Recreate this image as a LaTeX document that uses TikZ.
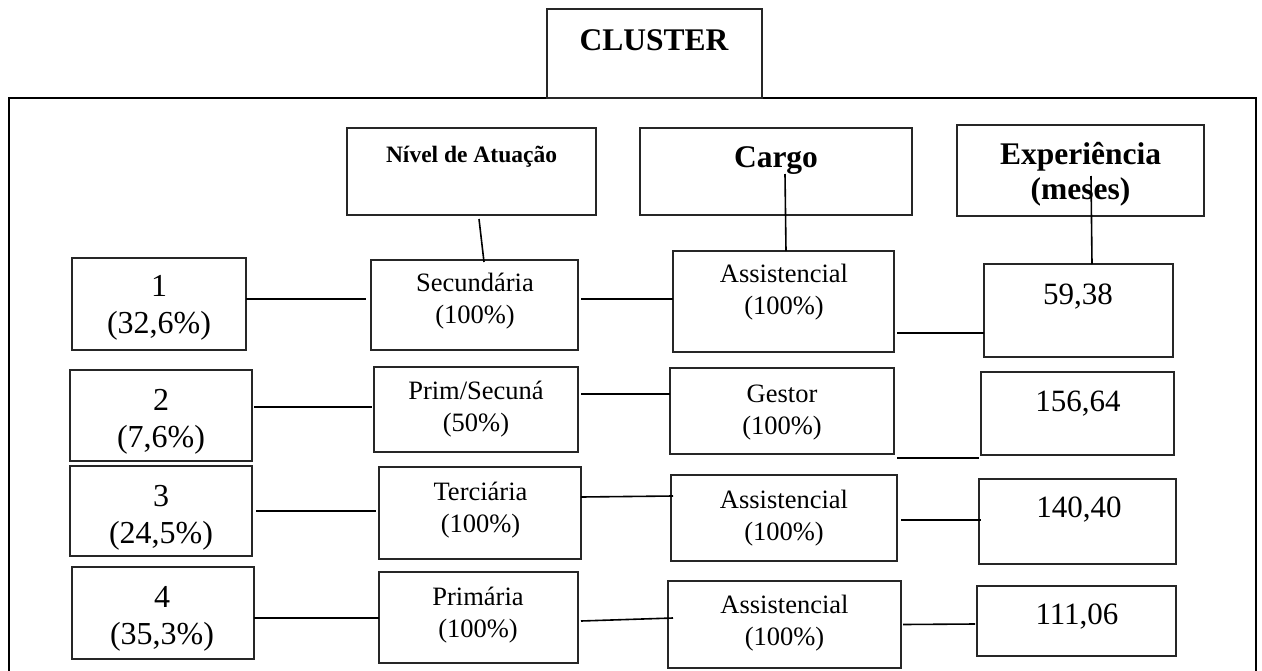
\documentclass[tikz,border=0pt]{standalone}
\usepackage{fontspec}
\setmainfont{Liberation Serif}
\tikzset{
  bx/.style={draw=black!85, line width=1.4pt, inner sep=0pt, outer sep=0pt, rectangle},
  cn/.style={line width=1.6pt, draw=black},
  frm/.style={line width=2.8pt, draw=black},
  lft/.style={inner sep=0pt, align=center, font=\fontsize{32}{37}\selectfont},
  mid/.style={inner sep=0pt, align=center, font=\fontsize{26.5}{32}\selectfont},
  num/.style={inner sep=0pt, font=\fontsize{31}{36}\selectfont},
  hdr/.style={inner sep=0pt, align=center, font=\fontsize{31.5}{35}\selectfont\bfseries},
  hdrs/.style={inner sep=0pt, font=\fontsize{23.5}{28}\selectfont\bfseries},
}
\newcommand\bxnode[5]{\node[bx,minimum width={(#4-#2)*1pt},minimum height={(#5-#3)*1pt}] (#1) at ({(#2+#4)/2},{(#3+#5)/2}) {};}
\begin{document}
\begin{tikzpicture}[x=1pt,y=-1pt]
\useasboundingbox (0,0) rectangle (1262,670);
% outer frame
\draw[frm] (9,672) -- (9,98) -- (1256,98) -- (1256,672);
% boxes
\bxnode{cl}{547}{9}{762}{98}
\bxnode{niv}{347}{128}{596}{215}
\bxnode{car}{640}{128}{912}{215}
\bxnode{exp}{957}{125}{1204}{216}
\bxnode{b1}{72}{258}{246}{350}
\bxnode{b2}{70}{370}{252}{461}
\bxnode{b3}{70}{466}{252}{556}
\bxnode{b4}{72}{567}{254}{659}
\bxnode{s1}{371}{260}{578}{350}
\bxnode{s2}{374}{367}{578}{452}
\bxnode{s3}{379}{467}{581}{559}
\bxnode{s4}{379}{572}{578}{663}
\bxnode{c1}{673}{251}{894}{352}
\bxnode{c2}{670}{368}{894}{454}
\bxnode{c3}{671}{475}{897}{561}
\bxnode{c4}{668}{581}{901}{668}
\bxnode{e1}{984}{264}{1173}{357}
\bxnode{e2}{981}{372}{1174}{455}
\bxnode{e3}{979}{479}{1176}{564}
\bxnode{e4}{977}{586}{1176}{656}
% texts
\node[hdr] (tcl) at (654,40) {CLUSTER};
\node[hdrs] (tniv) at (471.5,156.6) {Nível de Atuação};
\node[hdr] (tcar) at (776,160.6) {Cargo};
\node[hdr] (texp) at (1080.5,174.5) {Experiência\\(meses)};
\node[lft] (tb1) at (159,308) {1\\(32,6\%)};
\node[lft] (tb2) at (161,422) {2\\(7,6\%)};
\node[lft] (tb3) at (161,518) {3\\(24,5\%)};
\node[lft] (tb4) at (162,618.5) {4\\(35,3\%)};
\node[mid] (ts1) at (475,301.5) {Secundária\\(100\%)};
\node[mid] (ts2) at (476,409.5) {Prim/Secuná\\(50\%)};
\node[mid] (ts3) at (480.5,510) {Terciária\\(100\%)};
\node[mid] (ts4) at (478,615) {Primária\\(100\%)};
\node[mid] (tc1) at (784,292.5) {Assistencial\\(100\%)};
\node[mid] (tc2) at (782,412.5) {Gestor\\(100\%)};
\node[mid] (tc3) at (784,518.5) {Assistencial\\(100\%)};
\node[mid] (tc4) at (784.5,623.5) {Assistencial\\(100\%)};
\node[num] (te1) at (1078,296.7) {59,38};
\node[num] (te2) at (1078,403.4) {156,64};
\node[num] (te3) at (1079,510) {140,40};
\node[num] (te4) at (1077,617) {111,06};
% vertical connectors
\draw[cn] ([xshift=7.5pt,yshift=-4pt]niv.south) -- ([xshift=9.5pt,yshift=-2pt]s1.north);
\draw[cn] ([xshift=9pt,yshift=41pt]car.south) -- ([xshift=2.5pt]c1.north);
\draw[cn] ([xshift=10.5pt,yshift=40pt]exp.south) -- ([xshift=13.5pt]e1.north);
% row 1
\draw[cn] ([yshift=5pt]b1.east) -- ([xshift=-5pt,yshift=6pt]s1.west);
\draw[cn] ([xshift=3pt,yshift=6pt]s1.east) -- ([yshift=2.5pt]c1.west);
\draw[cn] ([xshift=3pt,yshift=-31.5pt]c1.east) -- ([yshift=-22.5pt]e1.west);
% row 2
\draw[cn] ([xshift=2pt,yshift=8.5pt]b2.east) -- ([xshift=-2pt,yshift=2.5pt]s2.west);
\draw[cn] ([xshift=3pt,yshift=15.5pt]s2.east) -- ([yshift=17pt]c2.west);
\draw[cn] ([xshift=3pt,yshift=-47pt]c2.east) -- ([xshift=-2pt,yshift=-44.5pt]e2.west);
% row 3
\draw[cn] ([xshift=4pt]b3.east) -- ([xshift=-3pt,yshift=2pt]s3.west);
\draw[cn] ([yshift=16pt]s3.east) -- ([xshift=2pt,yshift=22pt]c3.west);
\draw[cn] ([xshift=4pt,yshift=-2pt]c3.east) -- ([xshift=2pt,yshift=1.5pt]e3.west);
% row 4
\draw[cn] ([yshift=-5pt]b4.east) -- ([yshift=-0.5pt]s4.west);
\draw[cn] ([xshift=3pt,yshift=-3.5pt]s4.east) -- ([xshift=5pt,yshift=6.5pt]c4.west);
\draw[cn] ([xshift=2pt]c4.east) -- ([xshift=-2pt,yshift=-3pt]e4.west);
\end{tikzpicture}
\end{document}
